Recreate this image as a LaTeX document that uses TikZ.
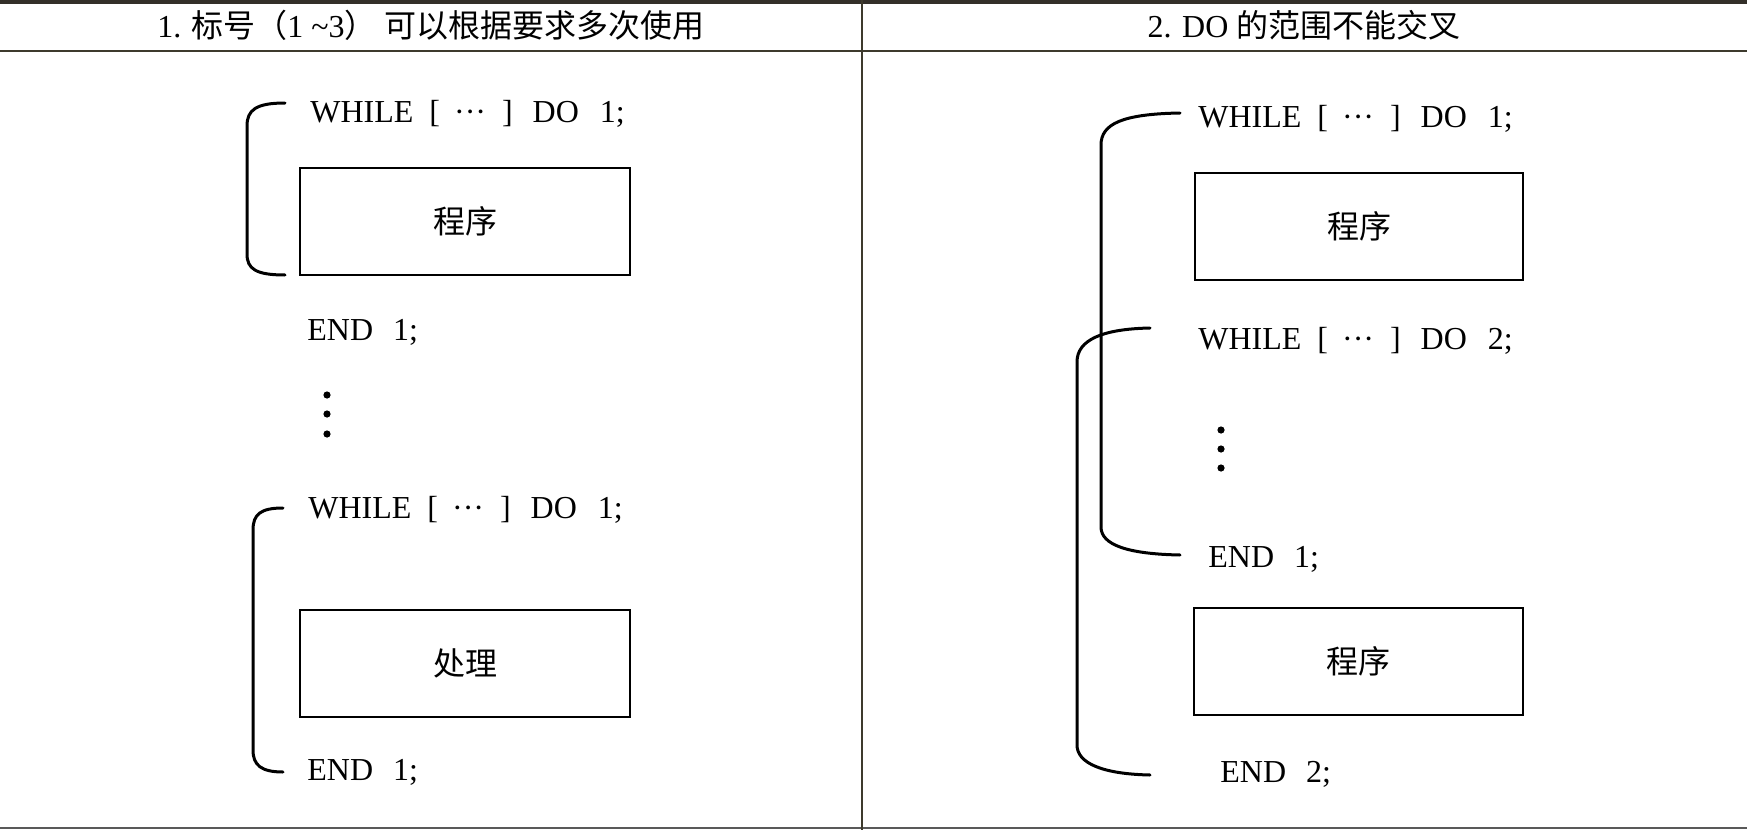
\documentclass[tikz,border=0pt]{standalone}
\usepackage{fontspec}
\setmainfont{Liberation Serif}
\newfontfamily\cjk{Noto Sans CJK SC}
\newcommand{\whl}[1]{WHILE\hspace{8pt}[\hspace{7pt}\textperiodcentered\textperiodcentered\textperiodcentered\hspace{8pt}]\hspace{10pt}DO\hspace{10.5pt}#1;}
\begin{document}
\begin{tikzpicture}[x=0.5pt,y=-0.5pt,
  txt/.style={inner sep=0pt,anchor=base west,font=\fontsize{16pt}{18pt}\selectfont},
  head/.style={inner sep=0pt,font=\fontsize{16pt}{18pt}\selectfont},
  prog/.style={draw=black,line width=1.2pt,inner sep=0pt,font=\fontsize{16pt}{18pt}\selectfont\cjk},
  brk/.style={line width=1.5pt,line cap=round},
  dotc/.style={fill=black},
  rule/.style={draw=black!75!olive}]
\useasboundingbox (0,0) rectangle (1747,830);
\fill[white] (0,0) rectangle (1747,830);
% table rules
\draw[rule,line width=1.6pt,draw=black!85!olive] (0,2) -- (1747,2);
\draw[rule,line width=1pt] (0,51) -- (1747,51);
\draw[rule,line width=1pt,draw=black!65] (0,828) -- (1747,828);
\draw[rule,line width=1pt] (862,0) -- (862,830);
% headers
\node[head] (h1) at (431,25) {1.\hspace{5pt}{\cjk 标号（}1\hspace{4pt}\textasciitilde3{\cjk ）}\hspace{4pt}{\cjk 可以根据要求多次使用}};
\node[head] (h2) at (1304,25) {2. DO {\cjk 的范围不能交叉}};
% left panel
\node[txt] (lw1) at (310,122) {\whl{1}};
\node[prog,minimum width=165pt,minimum height=53.5pt] (lb1) at (465,221.5) {程序};
\node[txt] (le1) at (307,340) {END\hspace{10pt}1;};
\fill[dotc] (327,395) circle[radius=1.8pt] (327,414) circle[radius=1.8pt] (327,434) circle[radius=1.8pt];
\node[txt] (lw2) at (308,518) {\whl{1}};
\node[prog,minimum width=165pt,minimum height=53.5pt] (lb2) at (465,663.5) {处理};
\node[txt] (le2) at (307,780) {END\hspace{10pt}1;};
\coordinate (la1) at (285,103);
\coordinate (la2) at (285,275);
\coordinate (lc1) at (283,508);
\coordinate (lc2) at (283,772);
\draw[brk] (la1) .. controls (256,103) and (247,110) .. (247,126) -- (247,254) .. controls (247,269) and (256,275) .. (la2);
\draw[brk] (lc1) .. controls (261,508) and (253,514) .. (253,530) -- (253,750) .. controls (253,765) and (261,772) .. (lc2);
% right panel
\node[txt] (rw1) at (1198,127) {\whl{1}};
\node[prog,minimum width=164pt,minimum height=53.5pt] (rb1) at (1359,226.5) {程序};
\node[txt] (rw2) at (1198,349) {\whl{2}};
\fill[dotc] (1221,430) circle[radius=1.8pt] (1221,449) circle[radius=1.8pt] (1221,468) circle[radius=1.8pt];
\node[txt] (re1) at (1208,567) {END\hspace{10pt}1;};
\node[prog,minimum width=164.5pt,minimum height=53.5pt] (rb2) at (1358.5,661.5) {程序};
\node[txt] (re2) at (1220,782) {END\hspace{10pt}2;};
\coordinate (ra1) at (1180,113);
\coordinate (ra2) at (1180,555);
\coordinate (rc1) at (1150,328);
\coordinate (rc2) at (1150,775);
\draw[brk] (ra1) .. controls (1122,114) and (1101,124) .. (1101,145) -- (1101,527) .. controls (1101,545) and (1128,554) .. (ra2);
\draw[brk] (rc1) .. controls (1102,329) and (1077,340) .. (1077,362) -- (1077,745) .. controls (1077,763) and (1102,774) .. (rc2);
\end{tikzpicture}
\end{document}
